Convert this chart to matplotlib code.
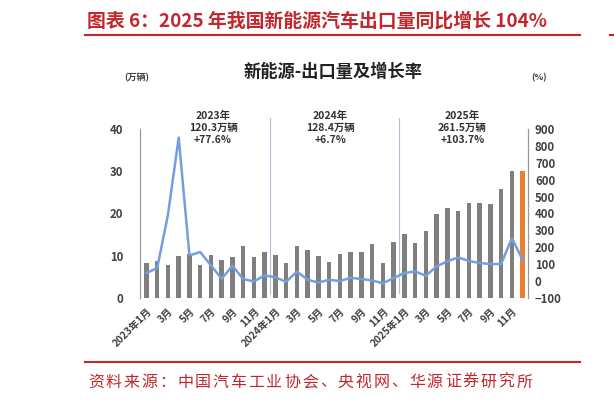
import numpy as np
import matplotlib
matplotlib.use('Agg')
import matplotlib.pyplot as plt
from matplotlib.lines import Line2D

plt.rcParams['font.family'] = ['Noto Sans CJK SC', 'DejaVu Sans']

# monthly NEV exports (10k units), 2023-01 .. 2025-12
exports = [8.4, 8.7, 7.9, 10.0, 10.5, 7.9, 10.2, 9.1, 9.6, 12.4, 9.6, 11.0,
           10.2, 8.2, 12.4, 11.4, 10.0, 8.5, 10.3, 11.0, 11.0, 12.8, 8.3, 13.3,
           15.1, 13.1, 15.8, 20.0, 21.3, 20.6, 22.5, 22.5, 22.2, 25.7, 30.1, 30.1]
# yoy growth (%)
growth = [48, 77, 392, 849, 152, 172, 93, 14, 91, 12, -2, 34,
          22, -4, 56, 8, -9, 8, 0, 20, 12, 4, -13, 18,
          48, 57, 32, 87, 117, 140, 119, 107, 101, 101, 254, 126]
tick_labels = ['2023年1月', '3月', '5月', '7月', '9月', '11月',
               '2024年1月', '3月', '5月', '7月', '9月', '11月',
               '2025年1月', '3月', '5月', '7月', '9月', '11月']
year_notes = ['2023年\n120.3万辆\n+77.6%', '2024年\n128.4万辆\n+6.7%',
              '2025年\n261.5万辆\n+103.7%']
note_x = [6.2, 17.1, 29.4]

red = '#c1272d'
dark = '#404040'
W, H = 614, 401

fig = plt.figure(figsize=(6.14, 4.01), dpi=100)

# header
fig.text(87 / W, 1 - 21 / H, '图表 6：2025 年我国新能源汽车出口量同比增长 104%',
         color=red, fontsize=13.6, fontweight='bold', va='center', ha='left')
fig.add_artist(Line2D([85 / W, 580 / W], [1 - 35 / H] * 2, color=red, lw=1.5))
fig.add_artist(Line2D([610 / W, 1.0], [1 - 35 / H] * 2, color=red, lw=1.5))
fig.add_artist(Line2D([85 / W, 580 / W], [1 - 362 / H] * 2, color=red, lw=1.5))

# source line, characters spaced evenly
source = '资料来源：中国汽车工业协会、央视网、华源证券研究所'
step = (533 - 87) / len(source)
for i, ch in enumerate(source):
    fig.text((87 + step * (i + 0.5)) / W, 1 - 382 / H, ch, color=red,
             fontsize=11.5, fontweight='light', va='center', ha='center')

# chart title and units
fig.text(333 / W, 1 - 72 / H, '新能源-出口量及增长率', fontsize=12.4,
         fontweight='bold', color='#222222', ha='center', va='center')
fig.text(137 / W, 1 - 78 / H, '(万辆)', fontsize=6.5, fontweight='bold',
         color=dark, ha='center', va='center')
fig.text(539 / W, 1 - 78 / H, '(%)', fontsize=6.5, fontweight='bold',
         color=dark, ha='center', va='center')

ax = fig.add_axes([140 / W, 1 - 298 / H, 388 / W, 169 / H])
x = np.arange(len(exports))
colors = ['#7f7f7f'] * (len(exports) - 1) + ['#ed7d31']
ax.bar(x, exports, width=0.42, color=colors, zorder=2)
ax.set_ylim(0, 40)
ax.set_xlim(-0.6, len(exports) - 0.5)
ax.set_yticks([0, 10, 20, 30, 40])

ax2 = ax.twinx()
ax2.plot(x, growth, color='#739fe0', lw=1.8, zorder=3)
ax2.set_ylim(-100, 900)
ax2.set_yticks(np.arange(-100, 901, 100))

for a in (ax, ax2):
    for s in ['top', 'bottom']:
        a.spines[s].set_visible(False)
    a.spines['left'].set_color('#999999')
    a.spines['right'].set_color('#999999')
    a.tick_params(axis='y', length=0, labelsize=8.2, labelcolor=dark)
    for t in a.get_yticklabels():
        t.set_fontweight('bold')
ax.tick_params(axis='y', pad=12)
ax2.tick_params(axis='y', pad=5)

ax.set_xticks(x[::2])
ax.set_xticklabels(tick_labels, rotation=45, ha='right', rotation_mode='anchor',
                   fontsize=7.3, fontweight='bold', color=dark)
ax.tick_params(axis='x', length=0, pad=6)

for xs in [11.5, 23.5]:
    ax.axvline(xs, ymin=0.03, ymax=1.065, color='#b3c0d3', lw=0.8, zorder=1,
               clip_on=False)

for xc, note in zip(note_x, year_notes):
    ax.text(xc, 44.3, note, ha='center', va='top', fontsize=7.5,
            fontweight='bold', color='#333333', linespacing=1.25)

fig.savefig('out.png', dpi=100)
